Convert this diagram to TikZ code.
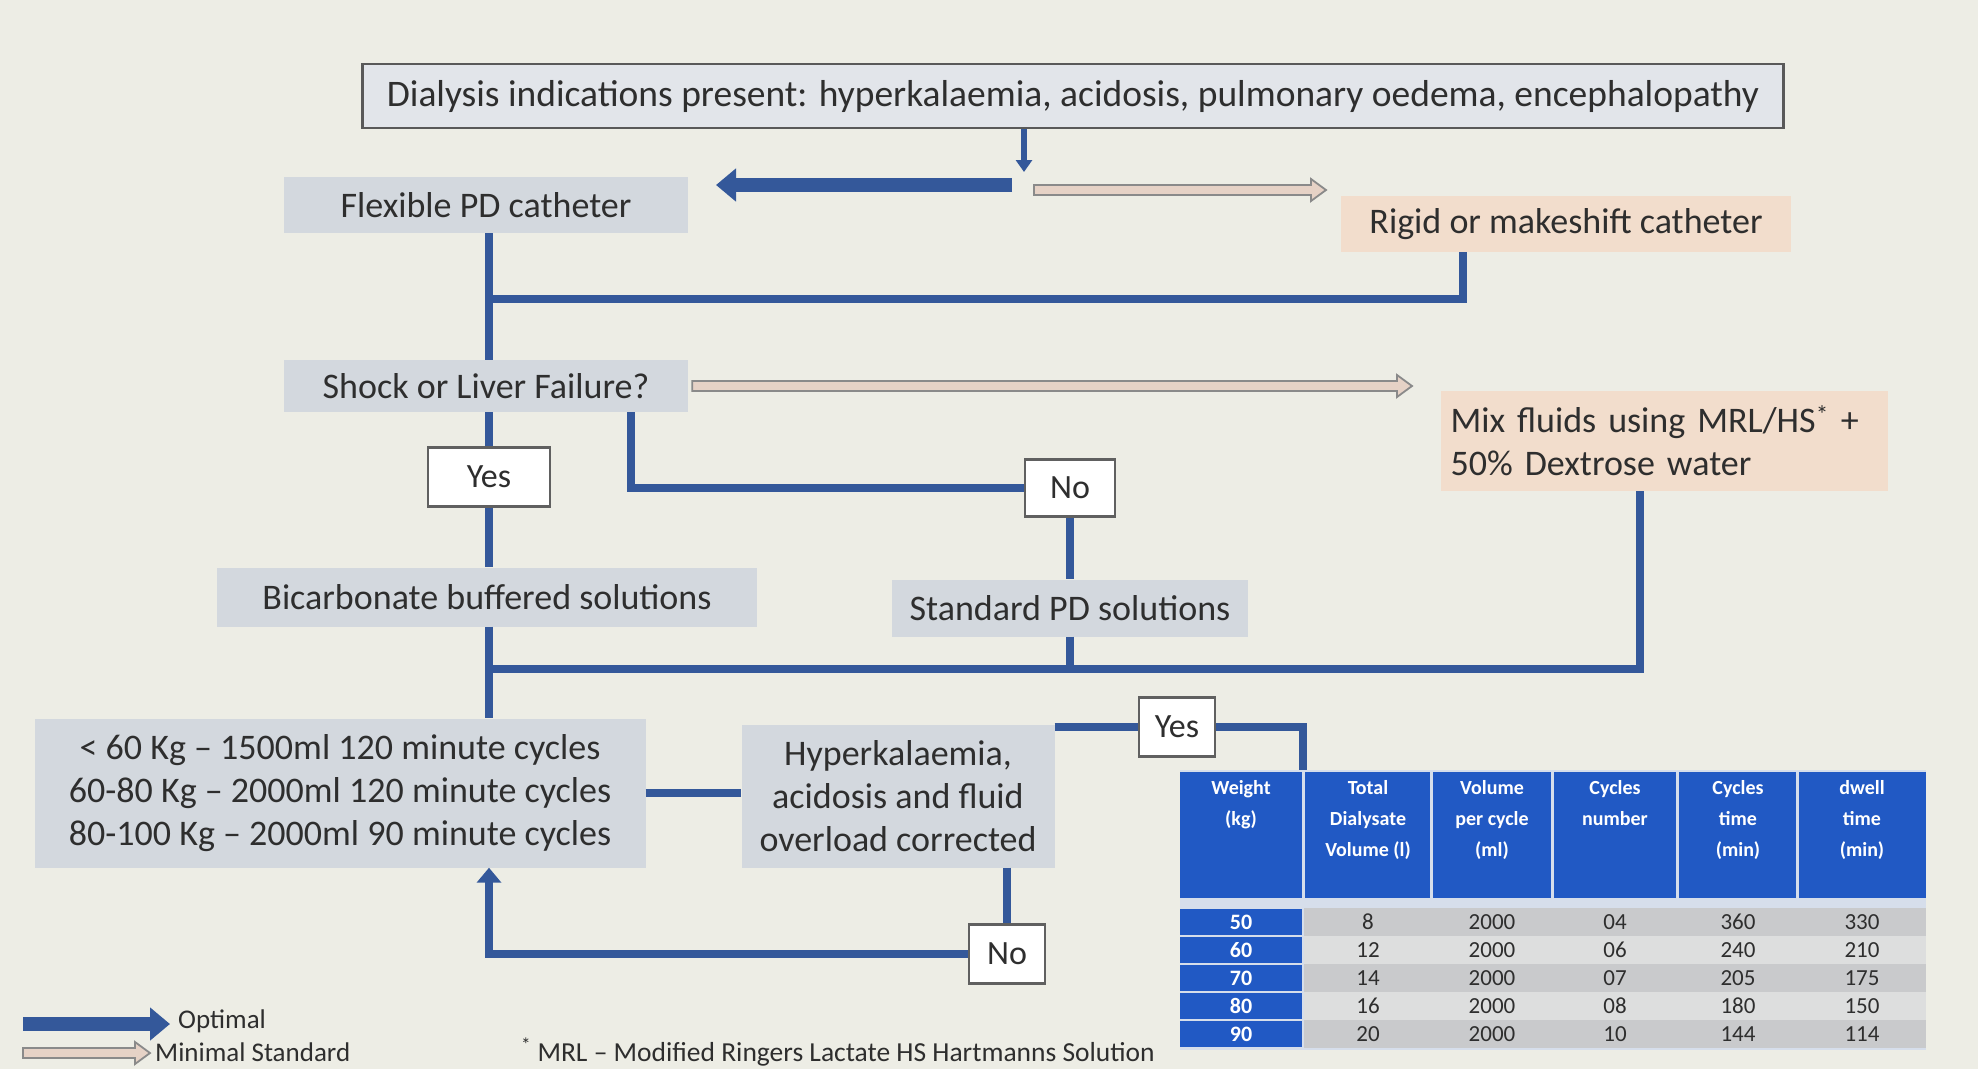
\documentclass[tikz,border=0pt]{standalone}
\usepackage{fontspec}
\setmainfont{Carlito}
\usetikzlibrary{arrows.meta,calc}
\definecolor{bg}{HTML}{EDEDE5}
\definecolor{boxgray}{HTML}{D3D8DE}
\definecolor{topfill}{HTML}{E2E5EA}
\definecolor{boxtan}{HTML}{F2DDCC}
\definecolor{lineblue}{HTML}{34589A}
\definecolor{txt}{HTML}{2E2E2E}
\definecolor{tblue}{HTML}{2159C4}
\definecolor{rowdark}{HTML}{C9CACC}
\definecolor{rowlight}{HTML}{DDDEDE}
\definecolor{tstripe}{HTML}{D6DEEB}
\definecolor{hollowfill}{HTML}{E6D2C6}
\definecolor{hollowedge}{HTML}{8A8A8A}
\tikzset{
  gbox/.style={fill=boxgray, draw=none, inner sep=0pt, text=txt, align=center, font=\fontsize{36}{43}\selectfont},
  tbox/.style={fill=boxtan, draw=none, inner sep=0pt, text=txt, font=\fontsize{36}{43}\selectfont},
  ynbox/.style={fill=white, draw=gray!75!black, line width=2.5pt, inner sep=0pt, text=txt, font=\fontsize{34}{40}\selectfont},
  conn/.style={draw=lineblue, line width=8pt},
  conntip/.style={conn, -{Triangle[length=15pt,width=24pt]}},
  bigarrow/.style={draw=lineblue, line width=14pt, -{Triangle[length=20pt,width=32pt]}},
  hollow/.style={fill=hollowfill, draw=hollowedge, line width=1.8pt, line join=miter,
    to path={let \p1=(\tikztostart), \p2=(\tikztotarget) in
      (\x1,\y1+5pt) -- (\x2-15pt,\y1+5pt) -- (\x2-15pt,\y1+11pt) -- (\x2,\y1) -- (\x2-15pt,\y1-11pt) -- (\x2-15pt,\y1-5pt) -- (\x1,\y1-5pt) -- cycle}},
  hdr/.style={text=white, align=center, anchor=north, inner sep=0pt, font=\bfseries\fontsize{20}{31}\selectfont},
  cell/.style={text=txt, inner sep=0pt, font=\fontsize{23}{24}\selectfont},
  wcell/.style={text=white, inner sep=0pt, font=\bfseries\fontsize{22}{24}\selectfont},
}
\begin{document}
\begin{tikzpicture}[x=1pt,y=-1pt]
\fill[bg] (0,0) rectangle (1978,1069);
\useasboundingbox (0,0) rectangle (1978,1069);

% nodes
\node[fill=topfill, draw=gray!70!black, line width=2.5pt, inner sep=0pt, text=txt,
  minimum width=1421pt, minimum height=64pt, font=\fontsize{37.5}{44}\selectfont] (top) at (1073,96)
  {Dialysis indications present: hyperkalaemia, acidosis, pulmonary oedema, encephalopathy};
\node[gbox, minimum width=404pt, minimum height=56pt] (flex) at (486,205) {Flexible PD catheter};
\node[tbox, minimum width=450pt, minimum height=56pt] (rigid) at (1566,224) {Rigid or makeshift catheter};
\node[gbox, minimum width=404pt, minimum height=52pt] (shock) at (486,386) {Shock or Liver Failure?};
\node[tbox, minimum width=447pt, minimum height=100pt, align=left, text width=427pt] (mix) at (1664,441)
  {Mix fluids using MRL/HS\textsuperscript{*} +\\50\% Dextrose water};
\node[ynbox, minimum width=122pt, minimum height=59pt] (yes1) at (489,477) {Yes};
\node[ynbox, minimum width=90pt, minimum height=57pt] (no1) at (1070,488) {No};
\node[gbox, minimum width=540pt, minimum height=59pt] (bicarb) at (487,597) {Bicarbonate buffered solutions};
\node[gbox, minimum width=356pt, minimum height=57pt] (std) at (1070,608) {Standard PD solutions};
\node[gbox, minimum width=611pt, minimum height=149pt] (cycles) at (340,793)
  {< 60 Kg -- 1500ml 120 minute cycles\\60-80 Kg -- 2000ml 120 minute cycles\\80-100 Kg -- 2000ml 90 minute cycles};
\node[gbox, minimum width=313pt, minimum height=143pt] (hyper) at (898,796)
  {Hyperkalaemia,\\acidosis and fluid\\overload corrected};
\node[ynbox, minimum width=76pt, minimum height=59pt] (yes2) at (1177,727) {Yes};
\node[ynbox, minimum width=76pt, minimum height=59pt] (no2) at (1007,954) {No};

% coordinates
\coordinate (cx) at (489,0);
\coordinate (sx) at (631,0);
\coordinate (rx) at (1463,0);
\coordinate (mx) at (1640,0);
\coordinate (topout) at (1024,172);
\coordinate (tl0) at (1012,185);
\coordinate (tl1) at (716,185);
\coordinate (th0) at (1034,190);
\coordinate (th1) at (1326,190);
\coordinate (j1) at (489,299);
\coordinate (m1) at (489,669);
\coordinate (h2) at (1412,390);
\coordinate (tt) at (1303,772);

% connectors
\draw[draw=lineblue, line width=6pt, -{Triangle[length=12pt,width=16pt]}] (top.south -| topout) -- (topout);
\draw[bigarrow] (tl0) -- (tl1);
\filldraw[hollow] (th0) to (th1);
\draw[conn] (flex.south -| cx) -- (shock.north -| cx);
\draw[conn] (j1) -| (rigid.south -| rx);
\filldraw[hollow] ([xshift=4pt]shock.east) to (h2);
\draw[conn] (shock.south -| cx) -- (yes1.north);
\draw[conn] (yes1.south) -- (bicarb.north -| cx);
\draw[conn] (shock.south -| sx) |- (no1.west);
\draw[conn] (no1.south) -- (std.north);
\draw[conn] (bicarb.south -| cx) -- (cycles.north -| cx);
\draw[conn] (m1) -| (mix.south -| mx);
\draw[conn] (std.south) -- (std.south |- m1);
\draw[conn] (cycles.east) -- (hyper.west |- cycles.east);
\draw[conn] (hyper.east |- yes2.west) -- (yes2.west);
\draw[conn] (yes2.east) -| (tt);
\draw[conn] (hyper.south -| no2.north) -- (no2.north);
\draw[conntip] (no2.west) -| (cycles.south -| cx);

% table
\fill[tstripe] (1180,770) rectangle (1926,1050);
\foreach \a/\b in {1180/1302,1305/1430,1433/1551,1554/1676,1679/1796,1799/1926}{
  \fill[tblue] (\a,772) rectangle (\b,898);
}
\foreach \r/\c in {0/rowdark,1/rowlight,2/rowdark,3/rowlight,4/rowdark}{
  \fill[\c] (1304,908+28*\r) rectangle (1926,936+28*\r);
  \fill[tblue] (1180,909+28*\r) rectangle (1302,935+28*\r);
}
\node[hdr] (h1) at (1241,780) {Weight\\(kg)};
\node[hdr] (h2t) at (1368,780) {Total\\Dialysate\\Volume (l)};
\node[hdr] (h3) at (1492,780) {Volume\\per cycle\\(ml)};
\node[hdr] (h4) at (1615,780) {Cycles\\number};
\node[hdr] (h5) at (1738,780) {Cycles\\time\\(min)};
\node[hdr] (h6) at (1862,780) {dwell\\time\\(min)};
\foreach \r/\w/\t/\v/\n/\ct/\d in {0/50/8/2000/04/360/330, 1/60/12/2000/06/240/210, 2/70/14/2000/07/205/175, 3/80/16/2000/08/180/150, 4/90/20/2000/10/144/114}{
  \node[wcell] at (1241,922+28*\r) {\w};
  \node[cell] at (1368,922+28*\r) {\t};
  \node[cell] at (1492,922+28*\r) {\v};
  \node[cell] at (1615,922+28*\r) {\n};
  \node[cell] at (1738,922+28*\r) {\ct};
  \node[cell] at (1862,922+28*\r) {\d};
}

% legend
\coordinate (lg0) at (23,1024);
\coordinate (lg1) at (170,1024);
\coordinate (lg2) at (23,1053);
\coordinate (lg3) at (150,1053);
\draw[bigarrow] (lg0) -- (lg1);
\filldraw[hollow] (lg2) to (lg3);
\node[anchor=west, inner sep=0pt, text=txt, font=\fontsize{27}{30}\selectfont] (opt) at (178,1021) {Optimal};
\node[anchor=west, inner sep=0pt, text=txt, font=\fontsize{27}{30}\selectfont] (minst) at (155,1052) {Minimal Standard};
\node[inner sep=0pt, text=txt, font=\fontsize{27.5}{30}\selectfont] (foot) at (838,1052)
  {\textsuperscript{*} MRL -- Modified Ringers Lactate HS Hartmanns Solution};
\end{tikzpicture}
\end{document}
